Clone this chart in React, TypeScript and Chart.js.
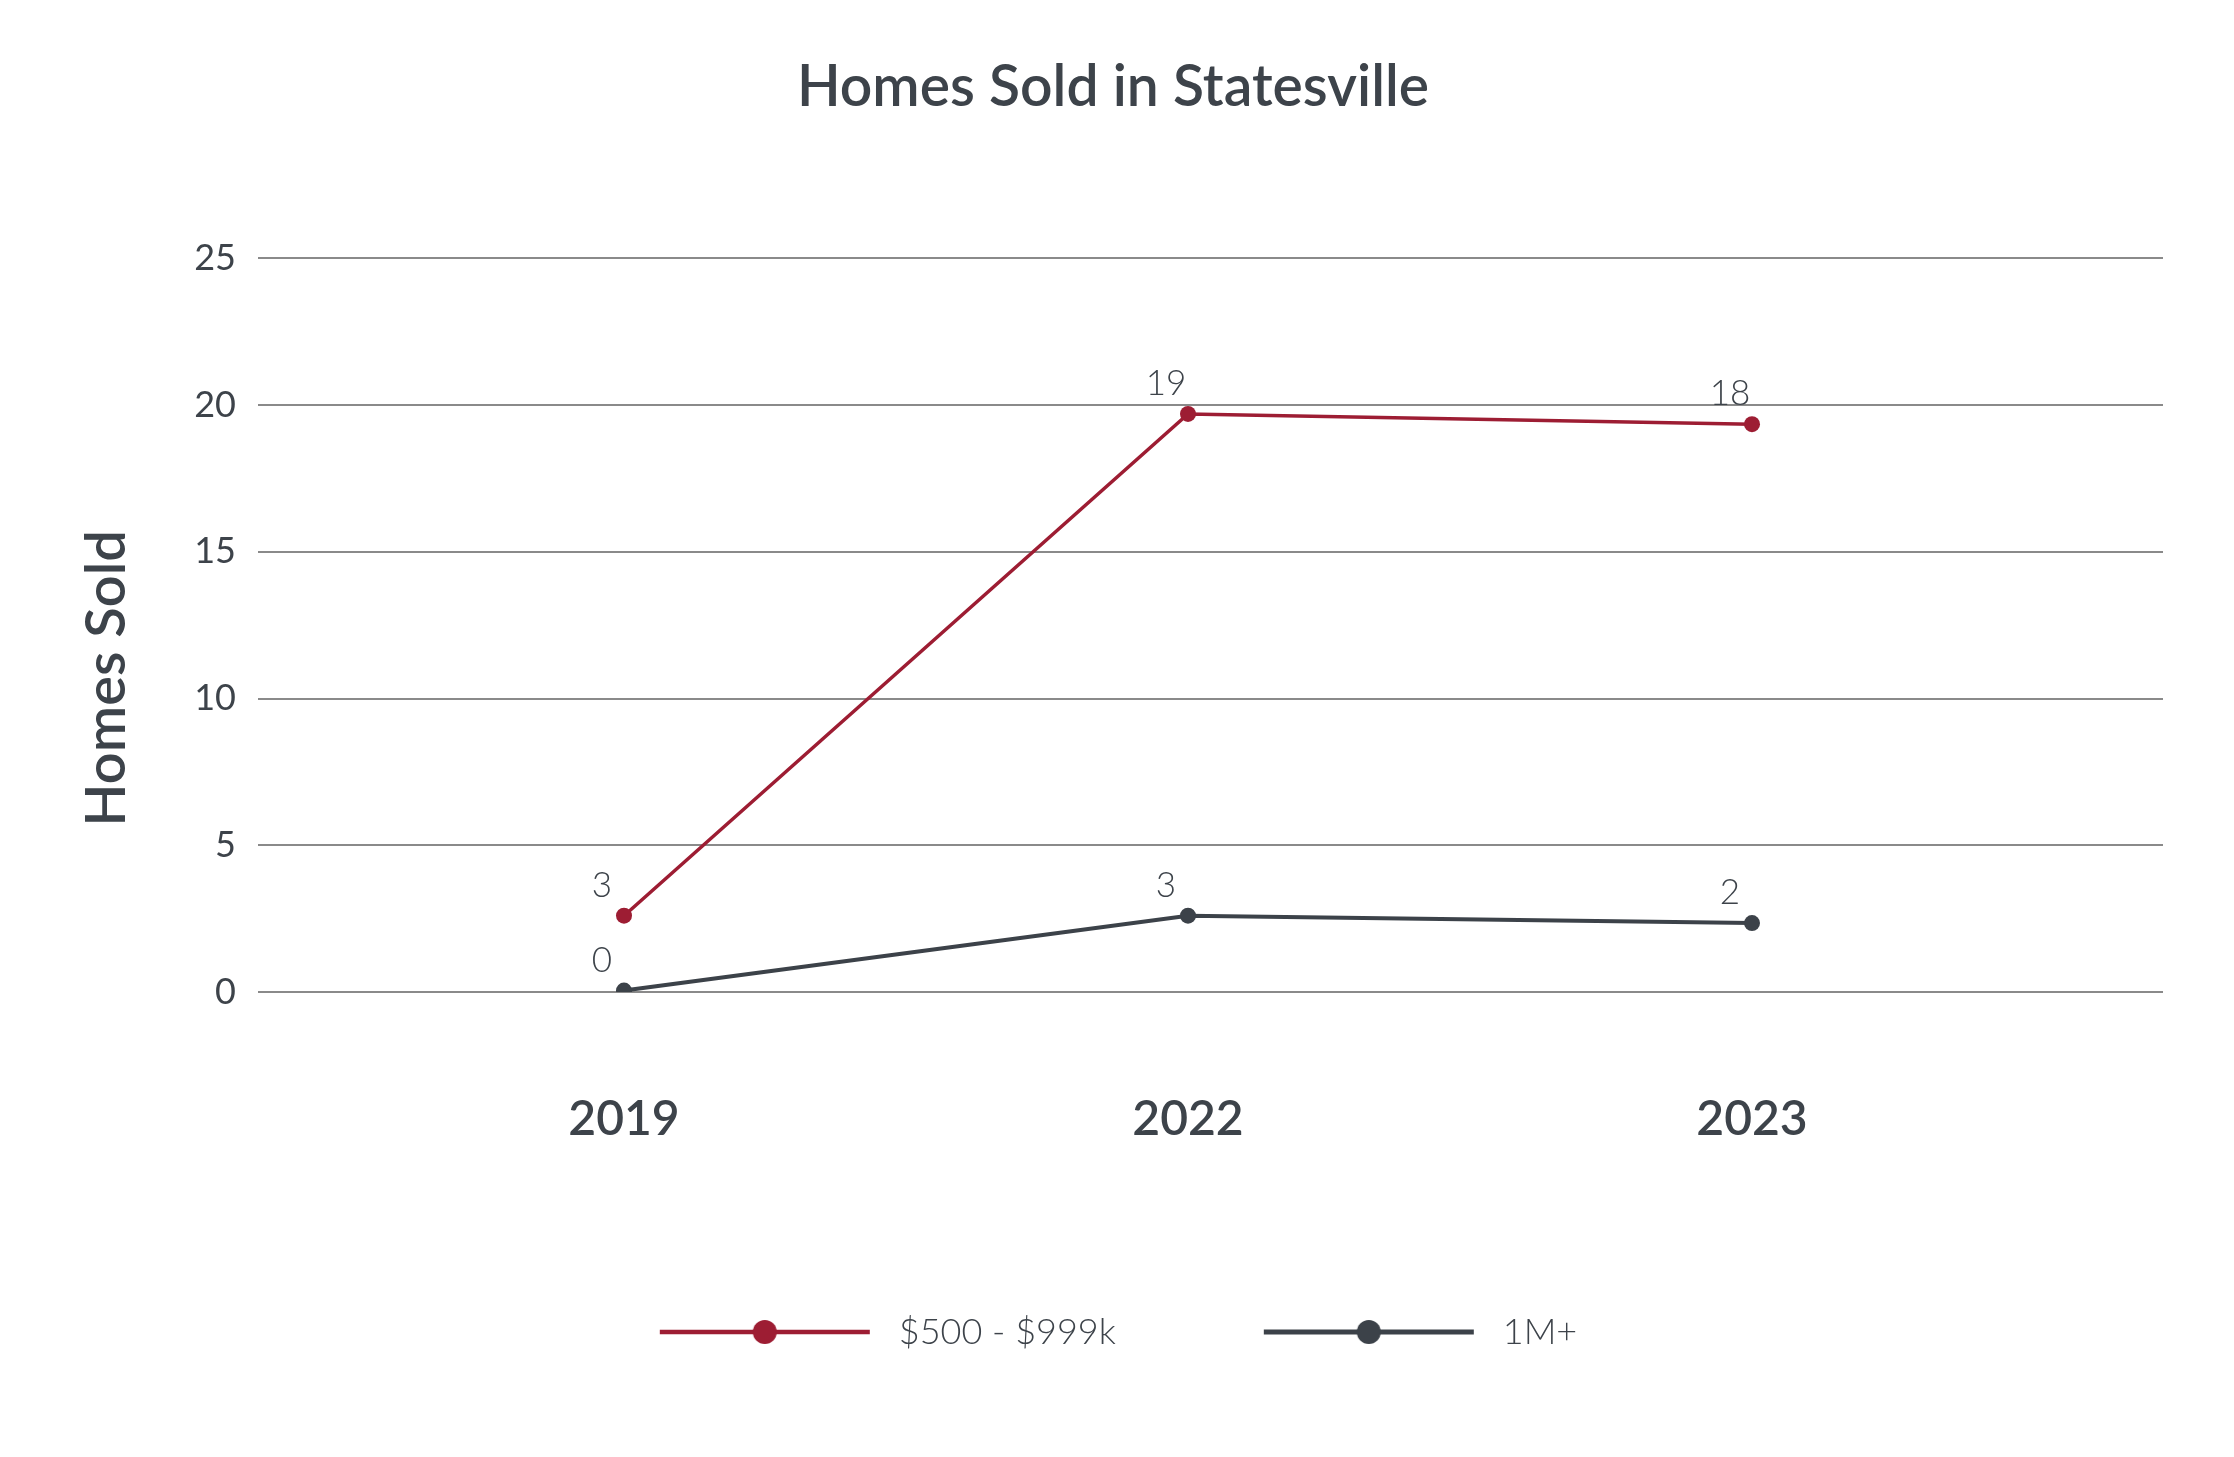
import { useEffect, useRef } from "react";
import { Chart, registerables } from "chart.js";

Chart.register(...registerables);

const years = ["2019", "2022", "2023"];
const midTierSales = [2.6, 19.7, 19.35];
const luxurySales = [0.05, 2.6, 2.35];
const midTierLabels = ["3", "19", "18"];
const luxuryLabels = ["0", "3", "2"];
const seriesNames = ["$500 - $999k", "1M+"];
const yTicks = [0, 5, 10, 15, 20, 25];

const W = 2234;
const H = 1457;
const TEXT = "#3d434a";
const GRID = "#8a8a8a";
const RED = "#9d1d33";
const DARK = "#3c4249";
const FONT = "Lato, 'Open Sans', sans-serif";

function makeSwatch(color: string, lw: number): HTMLCanvasElement {
  const c = document.createElement("canvas");
  c.width = 232;
  c.height = 28;
  const ctx = c.getContext("2d")!;
  ctx.fillStyle = color;
  ctx.fillRect(11, 14 - lw / 2, 210, lw);
  ctx.beginPath();
  ctx.arc(116, 14, 12, 0, Math.PI * 2);
  ctx.fill();
  return c;
}

export default function App() {
  const ref = useRef<HTMLCanvasElement | null>(null);

  useEffect(() => {
    document.body.style.margin = "0";
    const canvas = ref.current;
    if (!canvas) return;
    const swatches = [makeSwatch(RED, 4.5), makeSwatch(DARK, 5)];
    const pointLabels = [midTierLabels, luxuryLabels];

    const dataLabelPlugin = {
      id: "dataLabels",
      afterDatasetsDraw(chart: any) {
        const ctx = chart.ctx;
        ctx.save();
        ctx.fillStyle = TEXT;
        ctx.font = `300 35px ${FONT}`;
        ctx.textAlign = "center";
        ctx.textBaseline = "middle";
        chart.data.datasets.forEach((_: any, di: number) => {
          const meta = chart.getDatasetMeta(di);
          meta.data.forEach((el: any, i: number) => {
            ctx.fillText(pointLabels[di][i], el.x - 22, el.y - 30);
          });
        });
        ctx.restore();
      },
    };

    const yTitlePlugin = {
      id: "yTitle",
      afterDraw(chart: any) {
        const { ctx, chartArea } = chart;
        ctx.save();
        ctx.translate(chartArea.left - 235, chartArea.top + (chartArea.bottom - chartArea.top) * 0.5723);
        ctx.rotate(-Math.PI / 2);
        ctx.fillStyle = TEXT;
        ctx.font = `600 56px ${FONT}`;
        ctx.textAlign = "center";
        ctx.textBaseline = "middle";
        ctx.fillText("Homes Sold", 0, 0);
        ctx.restore();
      },
    };

    const chart = new Chart(canvas, {
      type: "line",
      data: {
        labels: years,
        datasets: [
          {
            label: seriesNames[0],
            data: midTierSales,
            borderColor: RED,
            backgroundColor: RED,
            borderWidth: 3.5,
            pointRadius: 8,
            pointBorderWidth: 0,
            pointBackgroundColor: RED,
            tension: 0,
            yAxisID: "y",
          },
          {
            label: seriesNames[1],
            data: luxurySales,
            borderColor: DARK,
            backgroundColor: DARK,
            borderWidth: 4,
            pointRadius: 8,
            pointBorderWidth: 0,
            pointBackgroundColor: DARK,
            tension: 0,
            yAxisID: "y",
          },
        ],
      },
      options: {
        responsive: false,
        animation: false,
        devicePixelRatio: 1,
        layout: { padding: { left: 0, right: 8, top: 0, bottom: 97 } },
        plugins: {
          title: {
            display: true,
            text: "Homes Sold in Statesville",
            color: TEXT,
            font: { family: FONT, size: 57, weight: "600" as any },
            padding: { top: 53, bottom: 137 },
          },
          legend: {
            position: "bottom",
            labels: {
              usePointStyle: true,
              pointStyleWidth: 232,
              padding: 137,
              color: TEXT,
              font: { family: FONT, size: 36, weight: "300" as any },
              generateLabels: (c: any) => {
                const items = Chart.defaults.plugins.legend.labels.generateLabels(c);
                return items.map((it: any, i: number) => ({ ...it, pointStyle: swatches[i] }));
              },
            },
          },
          tooltip: { enabled: false },
        },
        scales: {
          x: {
            type: "category",
            offset: true,
            grid: { display: false, drawTicks: false },
            border: { display: false },
            ticks: {
              color: TEXT,
              font: { family: FONT, size: 48, weight: "600" as any },
              padding: 99,
            },
            afterFit: (s: any) => {
              s.height = 185;
            },
          },
          y: {
            position: "left",
            min: yTicks[0],
            max: yTicks[yTicks.length - 1],
            ticks: {
              stepSize: yTicks[1] - yTicks[0],
              color: TEXT,
              font: { family: FONT, size: 36, weight: "400" as any },
              padding: 22,
            },
            grid: { color: GRID, lineWidth: 2, tickLength: 84, drawTicks: true },
            border: { display: false },
            afterFit: (s: any) => {
              s.width = 342;
            },
          },
          y2: {
            position: "right",
            min: yTicks[0],
            max: yTicks[yTicks.length - 1],
            ticks: { stepSize: yTicks[1] - yTicks[0], display: false },
            grid: { color: GRID, lineWidth: 2, tickLength: 129, drawTicks: true, drawOnChartArea: false },
            border: { display: false },
            afterFit: (s: any) => {
              s.width = 192;
            },
          },
        },
      } as any,
      plugins: [dataLabelPlugin, yTitlePlugin],
    });
    return () => chart.destroy();
  }, []);

  return (
    <div style={{ width: W, height: H, background: "#fff" }}>
      <canvas ref={ref} width={W} height={H} style={{ display: "block", width: W, height: H }} />
    </div>
  );
}
